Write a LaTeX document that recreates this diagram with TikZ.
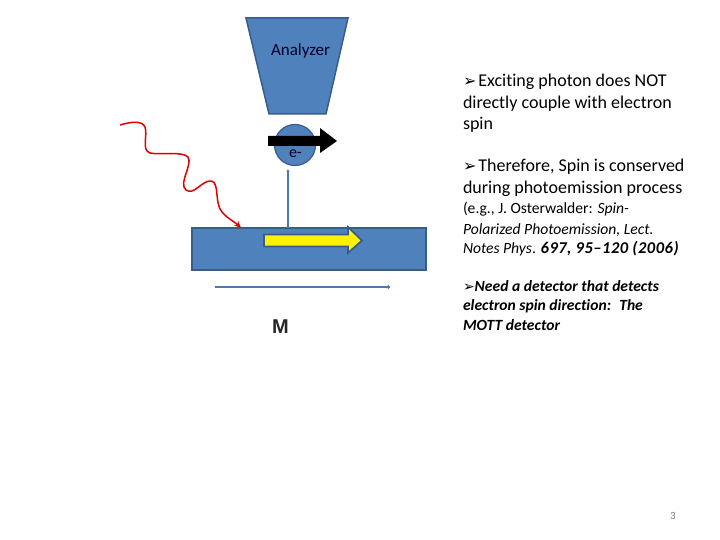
\documentclass[tikz,border=0pt]{standalone}
\usepackage{fontspec}
\setmainfont{Carlito}[Ligatures={NoCommon}]
\newfontfamily\dejavu{DejaVu Sans}
\newfontfamily\arialfont{Liberation Sans}
\usetikzlibrary{arrows.meta}
\definecolor{boxblue}{HTML}{4F81BD}
\definecolor{boxedge}{HTML}{385D8A}
\definecolor{linkblue}{HTML}{4A7AAE}
\definecolor{wavered}{HTML}{E00000}
\definecolor{pagegray}{HTML}{7F7F7F}
\newcommand{\bul}{{\dejavu\fontsize{16}{16}\selectfont\char"27A2}\hspace{2pt}}
\newcommand{\bulsm}{{\dejavu\fontsize{14}{14}\selectfont\char"27A2}}
\begin{document}
\begin{tikzpicture}[x=1pt,y=-1pt,
  txt/.style={anchor=base west,inner sep=0pt,outer sep=0pt},
  big/.style={txt,font=\fontsize{18}{21}\selectfont},
  small/.style={txt,font=\fontsize{15.6}{18}\selectfont},
  bisty/.style={txt,font=\bfseries\itshape\fontsize{15.6}{18}\selectfont},
  blueshape/.style={fill=boxblue,draw=boxedge,line width=1.5pt},
  conn/.style={draw=linkblue,line width=1.2pt}
]
\useasboundingbox[fill=white] (0,0) rectangle (720,540);

% analyzer
\path[blueshape] (246,18) -- (348,18) -- (326,114) -- (269,114) -- cycle;
\node[txt,font=\fontsize{17}{20}\selectfont,text=black!85!blue] (ana) at (271,56) {Analyzer};

% substrate
\node[blueshape,rectangle,minimum width=234pt,minimum height=42pt,inner sep=0pt] (sub) at (309,249) {};

% electron
\node[blueshape,circle,minimum size=41pt,inner sep=0pt,line width=1.2pt] (e) at (295,145) {};
\node[txt,font=\fontsize{16}{19}\selectfont,text=black!85!blue] (elab) at (289,158) {e-};

% emission line
\coordinate (emitbot) at (288,228);
\coordinate (emittop) at (288,169);
\draw[conn,-{Latex[length=3pt,width=3.5pt]}] (emitbot) -- (emittop);

% black spin arrow
\path[fill=black] (268,136) -- (320,136) -- (320,128) -- (337,141) -- (320,153) -- (320,146) -- (268,146) -- cycle;

% yellow magnetisation arrow
\path[fill=yellow,draw=boxedge,line width=1.8pt,line join=miter] (264,234.5) -- (348,234.5) -- (348,227) -- (362,240.5) -- (348,253) -- (348,246.5) -- (264,246.5) -- cycle;

% photon wave
\coordinate (w0) at (120,125);
\coordinate (wend) at (241,228);
\draw[wavered,line width=1.5pt,-{Stealth[length=7pt,width=6pt]}]
  (w0) .. controls (130,122) and (142,120) .. (145,127)
  .. controls (148,135) and (141,150) .. (150,153)
  .. controls (160,155) and (182,151) .. (188,157)
  .. controls (193,165) and (178,183) .. (186,190)
  .. controls (194,196) and (202,180) .. (211,181)
  .. controls (220,182) and (214,203) .. (222,212)
  .. controls (228,219) and (235,222) .. (wend);

% magnetisation line
\coordinate (m0) at (215,287);
\coordinate (m1) at (390,287);
\draw[conn,-{Circle[length=3.5pt]}] (m0) -- (m1);
\node[txt,font=\arialfont\bfseries\fontsize{20}{24}\selectfont,text=black!85] (M) at (272,333) {M};

% text
\node[big] (t1) at (463,87) {\bul Exciting photon does NOT};
\node[big] (t2) at (463,108.5) {directly couple with electron};
\node[big] (t3) at (463,130) {spin};
\node[big] (t4) at (463,172) {\bul Therefore, Spin is conserved};
\node[big] (t5) at (463,193.5) {during photoemission process};
\node[small] (t6) at (463,214) {(e.g., J. Osterwalder: \textit{Spin-}};
\node[small] (t7) at (463,234) {\textit{Polarized Photoemission, Lect.}};
\node[small] (t8) at (463,253.5) {\textit{Notes Phys}. {\fontsize{16.5}{18}\selectfont\addfontfeature{LetterSpace=3}\textbf{\textit{697, 95–120 (2006)}}}};
\node[bisty] (t9) at (463,291) {\bulsm Need a detector that detects};
\node[bisty] (t10) at (463,310.5) {electron spin direction:~ The};
\node[bisty] (t11) at (463,330) {MOTT detector};

\node[txt,font=\fontsize{11}{13}\selectfont,text=pagegray] (pg) at (670,519) {3};
\end{tikzpicture}
\end{document}
